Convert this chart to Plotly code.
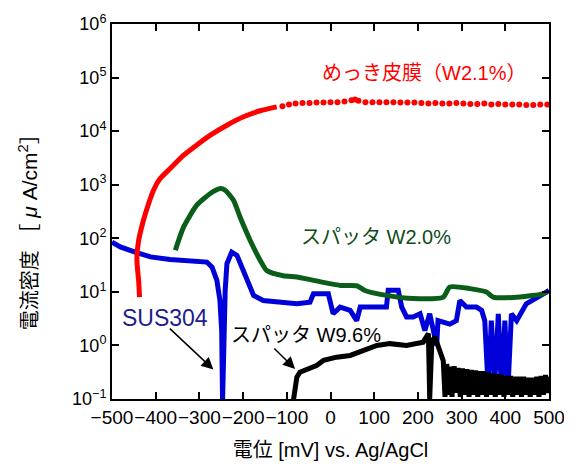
import plotly.graph_objects as go

# ---- data ----
# めっき皮膜 (W2.1%) rising part
red_x = [-437, -439, -443, -439, -428, -419, -405, -390, -367, -336, -306, -275, -237, -199, -161, -123]
red_y = [8.0, 16, 39, 92, 217, 380, 790, 1300, 2000, 3560, 5500, 8400, 12900, 18500, 24000, 28400]
# めっき皮膜 plateau (discrete dots)
redp_x = [-110, -95, -80, -64, -48, -32, -16, 0, 16, 32, 48, 56, 64, 80, 96, 112, 128, 144, 160, 176,
          192, 208, 224, 240, 256, 272, 288, 304, 320, 336, 352, 368, 384, 400, 416, 432, 448, 464, 480, 496]
redp_y = [29300, 31300, 32700, 33400, 33400, 34100, 34100, 34800, 34800, 35600, 37900, 38800, 37100, 34800,
          34800, 34800, 34800, 34500, 34100, 34100, 34100, 33400, 32700, 33400, 32700, 32700, 33400, 32700,
          32000, 32000, 32700, 31300, 32000, 31300, 31300, 31300, 30600, 30600, 31300, 31300]

# SUS304
blue_x = [-500, -481, -447, -412, -367, -321, -283, -271, -260, -253, -249, -247, -245, -241, -237, -226,
          -214, -199, -188, -176, -154, -123, -92, -77, -47, -39, -5, 6, 22, 45, 60, 68, 106, 128, 132,
          155, 163, 174, 189, 205, 216, 227, 243, 246, 273, 288, 296, 311, 334, 346, 353, 361, 368, 376,
          384, 391, 399, 406, 414, 426, 448, 471, 494, 500]
blue_y = [85, 69, 55, 45, 40, 38, 36, 29, 16.4, 6.9, 1.9, 0.089, 1.9, 10.7, 33.6, 55,
          48, 25, 14.2, 8.6, 6.9, 6.4, 6.0, 6.0, 6.4, 9.2, 9.2, 3.9, 5.2, 4.5, 2.9, 5.2, 5.2, 5.2, 10.7,
          10.7, 5.2, 3.4, 3.4, 3.9, 1.9, 3.9, 1.0, 2.9, 2.5, 2.9, 6.9, 5.2, 5.2, 4.5, 2.9, 0.15, 2.9, 0.2,
          3.9, 0.15, 2.9, 0.15, 3.9, 2.9, 6.0, 7.5, 9.9, 10.7]

# スパッタ W2.0%
green_x = [-355, -336, -306, -275, -252, -241, -222, -207, -184, -161, -146, -108, -77, -39, 22, 60, 80,
           128, 189, 258, 273, 319, 357, 372, 433, 486, 494]
green_y = [60, 163, 414, 686, 849, 789, 513, 250, 92, 39, 25, 20, 19, 16.4, 13.2, 13, 10.5,
           8.6, 7.5, 8.0, 12.3, 11.5, 9.9, 8.0, 8.0, 9.2, 9.9]

# スパッタ W9.6%
black_x = [-85, -77, -70, -47, -32, -16, 14, 45, 75, 106, 136, 174, 212, 224, 227, 232, 239, 250, 258,
           262, 266, 270, 274, 278, 283, 288, 292, 297, 302, 307, 312, 317, 322, 327, 332, 337, 342, 347,
           352, 357, 362, 367, 372, 377, 382, 387, 392, 397, 402, 407, 412, 417, 422, 427, 432, 437, 442,
           447, 452, 457, 462, 467, 472, 477, 482, 487, 492, 497, 500]
black_y = [0.093, 0.255, 0.317, 0.366, 0.423, 0.525, 0.604, 0.650, 0.807, 1.0, 1.08, 1.0, 1.15, 1.66,
           0.10, 1.2, 1.43, 0.81, 0.52,
           0.11, 0.45, 0.12, 0.40, 0.11, 0.41, 0.13, 0.38, 0.11, 0.37, 0.12, 0.36, 0.11, 0.35, 0.12, 0.34,
           0.11, 0.33, 0.12, 0.33, 0.11, 0.31, 0.12, 0.30, 0.11, 0.29, 0.12, 0.28, 0.11, 0.27, 0.12, 0.27,
           0.11, 0.26, 0.12, 0.26, 0.11, 0.26, 0.12, 0.25, 0.11, 0.25, 0.12, 0.26, 0.11, 0.27, 0.12, 0.28,
           0.13, 0.26]

x_ticks = [-500, -400, -300, -200, -100, 0, 100, 200, 300, 400, 500]
x_labels = ["−500", "−400", "−300", "−200", "−100", "0", "100", "200", "300", "400", "500"]
y_ticks = [0.1, 1, 10, 100, 1000, 10000, 100000, 1000000]
y_labels = ["10<sup>−1</sup>", "10<sup>0</sup>", "10<sup>1</sup>", "10<sup>2</sup>",
            "10<sup>3</sup>", "10<sup>4</sup>", "10<sup>5</sup>", "10<sup>6</sup>"]

RED = "#ff0000"
BLUE = "#0000d8"
GREEN = "#0b5e1a"
FONT = "Liberation Sans, Arial, Noto Sans CJK JP"

fig = go.Figure()
fig.add_trace(go.Scatter(x=blue_x, y=blue_y, mode="lines", line=dict(color=BLUE, width=5),
                         showlegend=False))
fig.add_trace(go.Scatter(x=green_x, y=green_y, mode="lines",
                         line=dict(color=GREEN, width=5, shape="spline", smoothing=0.6),
                         showlegend=False))
fig.add_trace(go.Scatter(x=red_x, y=red_y, mode="lines",
                         line=dict(color=RED, width=5, shape="spline", smoothing=0.6),
                         showlegend=False))
fig.add_trace(go.Scatter(x=redp_x, y=redp_y, mode="markers", marker=dict(color=RED, size=6),
                         showlegend=False))
fig.add_trace(go.Scatter(x=black_x, y=black_y, mode="lines", line=dict(color="black", width=5),
                         showlegend=False))

ann_font = dict(family=FONT, size=20)
fig.add_annotation(x=214, y=5.08, xref="x", yref="y", text="めっき皮膜（W2.1%）", showarrow=False,
                   font=dict(ann_font, color=RED))
fig.add_annotation(x=103, y=2.02, xref="x", yref="y", text="スパッタ W2.0%", showarrow=False,
                   font=dict(ann_font, color="#104d17"))
fig.add_annotation(x=-55, y=0.19, xref="x", yref="y", text="スパッタ W9.6%", showarrow=False,
                   font=dict(ann_font, color="black"))
fig.add_annotation(x=-378, y=0.52, xref="x", yref="y", text="SUS304", showarrow=False,
                   font=dict(ann_font, color="#1c1c8a", size=23))
# arrows
fig.add_annotation(x=-268, y=-0.45, ax=-371, ay=0.34, xref="x", yref="y", axref="x", ayref="y",
                   text="", showarrow=True, arrowhead=2, arrowsize=1.6, arrowwidth=1.5, arrowcolor="black")
fig.add_annotation(x=-81, y=-0.44, ax=-132, ay=-0.03, xref="x", yref="y", axref="x", ayref="y",
                   text="", showarrow=True, arrowhead=2, arrowsize=1.6, arrowwidth=1.5, arrowcolor="black")
# y-axis title (placed as a rotated annotation to match the reference position)
fig.add_annotation(x=-0.192, y=0.458, xref="paper", yref="paper", textangle=-90,
                   xanchor="center", yanchor="middle", showarrow=False,
                   text="<span style='font-size:20px'>電流密度</span> ［ <i>μ</i> A/cm<sup>2</sup>］",
                   font=dict(family=FONT, size=21, color="black"))

# page body adds an 8 px offset; figure sized so the plot lands where the reference has it
fig.update_layout(
    width=564, height=458,
    margin=dict(l=104, r=23, t=16, b=67),
    paper_bgcolor="white", plot_bgcolor="white",
    font=dict(family=FONT, color="black", size=17),
)
fig.update_xaxes(
    range=[-500, 500], tickvals=x_ticks, ticktext=x_labels, automargin=False, tickangle=0,
    showline=True, linecolor="black", linewidth=2, mirror="ticks",
    ticks="inside", ticklen=7, tickwidth=2, tickcolor="black",
    showgrid=False, zeroline=False,
    tickfont=dict(size=19),
    title=dict(text="電位 [mV] vs. Ag/AgCl", font=dict(size=20), standoff=16),
)
fig.update_yaxes(
    type="log", range=[-1, 6], tickvals=y_ticks, ticktext=y_labels, automargin=False,
    showline=True, linecolor="black", linewidth=2, mirror="ticks",
    ticks="inside", ticklen=7, tickwidth=2, tickcolor="black",
    showgrid=False, zeroline=False,
    tickfont=dict(size=18),
)

fig.write_html("out.html")
